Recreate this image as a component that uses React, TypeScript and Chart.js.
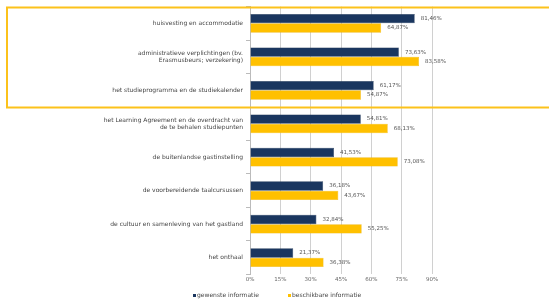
import React, { useEffect, useRef } from "react";
import { Chart, registerables } from "chart.js";

Chart.register(...registerables);

const categories: (string | string[])[] = [
  "huisvesting en accommodatie",
  ["administratieve verplichtingen (bv.", "Erasmusbeurs; verzekering)"],
  "het studieprogramma en de studiekalender",
  ["het Learning Agreement en de overdracht van", "de te behalen studiepunten"],
  "de buitenlandse gastinstelling",
  "de voorbereidende taalcursussen",
  "de cultuur en samenleving van het gastland",
  "het onthaal",
];
const gewenste = [81.46, 73.63, 61.17, 54.81, 41.53, 36.18, 32.84, 21.37];
const beschikbare = [64.87, 83.58, 54.87, 68.13, 73.08, 43.67, 55.25, 36.38];
const seriesNames = ["gewenste informatie", "beschikbare informatie"];
const xTicks = [0, 15, 30, 45, 60, 75, 90];

const NAVY = "#1a365f";
const YELLOW = "#ffc000";
const FONT = "'DejaVu Sans', Verdana, sans-serif";

const fmt = (v: number) => v.toFixed(2).replace(".", ",") + "%";

const valueLabels = {
  id: "valueLabels",
  afterDatasetsDraw(chart: any) {
    const ctx = chart.ctx;
    ctx.save();
    ctx.font = `5.5px ${FONT}`;
    ctx.fillStyle = "#555";
    ctx.textBaseline = "middle";
    ctx.textAlign = "left";
    chart.data.datasets.forEach((ds: any, di: number) => {
      const meta = chart.getDatasetMeta(di);
      meta.data.forEach((bar: any, i: number) => {
        ctx.fillText(fmt(ds.data[i]), bar.x + 6, bar.y);
      });
    });
    ctx.restore();
  },
};

const customLegend = {
  id: "customLegend",
  afterDraw(chart: any) {
    const ctx = chart.ctx;
    ctx.save();
    ctx.font = `6px ${FONT}`;
    ctx.textBaseline = "middle";
    ctx.textAlign = "left";
    const y = 295.5;
    const starts = [193, 288];
    chart.data.datasets.forEach((ds: any, i: number) => {
      const x = starts[i];
      ctx.fillStyle = ds.backgroundColor;
      ctx.fillRect(x, y - 1.5, 3, 3);
      ctx.fillStyle = "#444";
      ctx.fillText(seriesNames[i], x + 4, y);
    });
    ctx.restore();
  },
};

const highlightBox = {
  id: "highlightBox",
  afterDraw(chart: any) {
    const ctx = chart.ctx;
    ctx.save();
    ctx.strokeStyle = "#fcc21b";
    ctx.lineWidth = 2;
    ctx.strokeRect(7, 7.5, 600, 100);
    ctx.restore();
  },
};

export default function App() {
  const ref = useRef<HTMLCanvasElement>(null);
  useEffect(() => {
    document.body.style.margin = "0";
    const chart = new Chart(ref.current!, {
      type: "bar",
      data: {
        labels: categories,
        datasets: [
          {
            label: seriesNames[0],
            data: gewenste,
            backgroundColor: NAVY,
            borderColor: "#0f2545",
            borderWidth: 0.5,
            categoryPercentage: 0.56,
            barPercentage: 1,
          },
          {
            label: seriesNames[1],
            data: beschikbare,
            backgroundColor: YELLOW,
            borderColor: "#e8ae00",
            borderWidth: 0.5,
            categoryPercentage: 0.56,
            barPercentage: 1,
          },
        ],
      },
      options: {
        indexAxis: "y",
        animation: false,
        responsive: false,
        maintainAspectRatio: false,
        layout: { padding: { left: 0, right: 117, top: 6, bottom: 20 } },
        scales: {
          x: {
            min: 0,
            max: 90,
            afterBuildTicks: (scale: any) => {
              scale.ticks = xTicks.map((v) => ({ value: v }));
            },
            ticks: {
              callback: (v: any) => v + "%",
              font: { family: FONT, size: 5.5 },
              color: "#666",
              padding: 2,
            },
            grid: { color: "#d0d0d0", lineWidth: 1, drawTicks: false },
            border: { display: false },
          },
          y: {
            afterFit: (scale: any) => {
              scale.width = 250;
            },
            ticks: {
              font: { family: FONT, size: 6 },
              color: "#444",
              padding: 3,
              autoSkip: false,
            },
            grid: {
              drawOnChartArea: false,
              drawTicks: true,
              tickLength: 4,
              color: "#bbb",
            },
            border: { display: true, color: "#bbb" },
          },
        },
        plugins: {
          legend: { display: false },
          tooltip: { enabled: false },
        },
      },
      plugins: [valueLabels, customLegend, highlightBox],
    });
    return () => chart.destroy();
  }, []);
  return (
    <div style={{ position: "absolute", left: 0, top: 0, width: 549, height: 305, background: "#fff" }}>
      <canvas ref={ref} width={549} height={305} style={{ width: 549, height: 305 }} />
    </div>
  );
}
